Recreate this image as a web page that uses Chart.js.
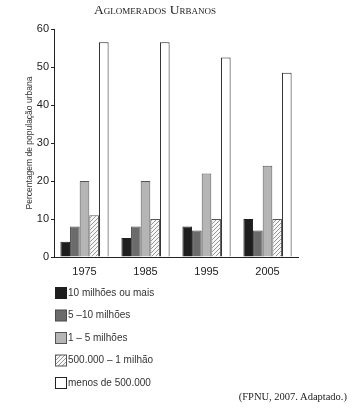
<!DOCTYPE html>
<html>
<head>
<meta charset="utf-8">
<script src="https://cdn.jsdelivr.net/npm/chart.js@4.4.1/dist/chart.umd.min.js"></script>
<style>
  html, body { margin: 0; padding: 0; background: #fff; }
  #wrap { position: relative; width: 353px; height: 417px; }
  #title { position: absolute; left: 0; width: 310px; top: 2px; text-align: center;
    font-family: "Liberation Serif", serif; font-size: 13.5px; font-variant: small-caps; color: #222; }
  #source { position: absolute; right: 6px; top: 391px;
    font-family: "Liberation Serif", serif; font-size: 10.5px; color: #222; }
</style>
</head>
<body>
<div id="wrap">
  <canvas id="chart" width="353" height="417"></canvas>
  <div id="title">Aglomerados Urbanos</div>
  <div id="source">(FPNU, 2007. Adaptado.)</div>
</div>
<script>
const years = ["1975", "1985", "1995", "2005"];
const seriesNames = ["10 milhões ou mais", "5 –10 milhões", "1 – 5 milhões", "500.000 – 1 milhão", "menos de 500.000"];
const mega = [4, 5, 8, 10];
const large = [8, 8, 7, 7];
const medium = [20, 20, 22, 24];
const small = [11, 10, 10, 10];
const under500k = [56.5, 56.5, 52.5, 48.5];
const yTicks = [0, 10, 20, 30, 40, 50, 60];

// diagonal hatch for the 500.000 – 1 milhão series
function hatch() {
  const c = document.createElement('canvas');
  c.width = 4; c.height = 4;
  const g = c.getContext('2d');
  g.fillStyle = '#f7f7f7';
  g.fillRect(0, 0, 4, 4);
  g.strokeStyle = '#8a8a8a';
  g.lineWidth = 0.9;
  g.beginPath();
  g.moveTo(0, 4); g.lineTo(4, 0);
  g.moveTo(-1, 1); g.lineTo(1, -1);
  g.moveTo(3, 5); g.lineTo(5, 3);
  g.stroke();
  return g.createPattern(c, 'repeat');
}

const fills = ['#1e1e1e', '#6b6b6b', '#b5b5b5', hatch(), '#ffffff'];
const borders = ['#1e1e1e', '#4a4a4a', '#555555', '#555555', '#222222'];
const values = [mega, large, medium, small, under500k];

const legendBox = {
  id: 'legendBox',
  afterDraw(chart) {
    const ctx = chart.ctx;
    ctx.save();
    ctx.font = '10px "Liberation Sans", Arial, sans-serif';
    ctx.textBaseline = 'middle';
    chart.data.datasets.forEach((ds, i) => {
      const y = 293 + i * 22.5;
      ctx.fillStyle = ds.backgroundColor;
      ctx.fillRect(55.5, y - 5.5, 11, 11);
      ctx.strokeStyle = ds.borderColor;
      ctx.lineWidth = 1;
      ctx.strokeRect(55.5, y - 5.5, 11, 11);
      ctx.fillStyle = '#333';
      ctx.fillText(ds.label, 68, y);
    });
    ctx.restore();
  }
};

new Chart(document.getElementById('chart'), {
  type: 'bar',
  data: {
    labels: years,
    datasets: values.map((v, i) => ({
      label: seriesNames[i],
      data: v,
      backgroundColor: fills[i],
      borderColor: borders[i],
      borderWidth: 1,
      categoryPercentage: 0.79,
      barPercentage: 1,
    })),
  },
  options: {
    responsive: false,
    animation: false,
    layout: { padding: { left: 22, top: 29, right: 55, bottom: 0 } },
    plugins: { legend: { display: false }, tooltip: { enabled: false } },
    scales: {
      x: {
        grid: { display: false },
        border: { display: true, color: '#222', width: 1 },
        ticks: { color: '#222', padding: 0, font: { family: '"Liberation Sans", Arial, sans-serif', size: 11 } },
        afterFit: s => { s.height = 160; },
      },
      y: {
        min: 0, max: 60,
        afterBuildTicks: s => { s.ticks = yTicks.map(v => ({ value: v })); },
        grid: { drawOnChartArea: false, drawTicks: true, tickLength: 3, color: '#222' },
        border: { display: true, color: '#222', width: 1 },
        ticks: { color: '#222', padding: 2, font: { family: '"Liberation Sans", Arial, sans-serif', size: 11 } },
        title: { display: true, text: 'Percentagem de população urbana', color: '#333', padding: { top: 3, bottom: 0 },
          font: { family: '"Liberation Sans", Arial, sans-serif', size: 8.5 } },
        afterFit: s => { s.width = 32; },
      },
    },
  },
  plugins: [legendBox],
});
</script>
</body>
</html>
